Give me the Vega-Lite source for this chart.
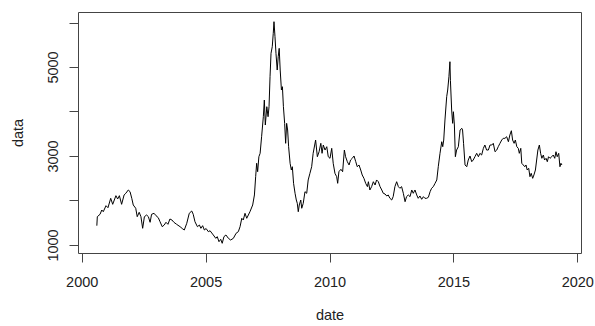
{
  "$schema": "https://vega.github.io/schema/vega-lite/v6.json",
  "width": 503,
  "height": 241,
  "autosize": {"type": "none"},
  "padding": {"left": 78, "top": 12, "right": 14, "bottom": 73},
  "background": "white",
  "config": {
    "view": {"stroke": "#444", "strokeWidth": 1},
    "font": "Liberation Sans",
    "axis": {"grid": false, "domain": false, "tickColor": "#444", "tickSize": 9, "labelColor": "#222", "titleColor": "#222", "labelFontSize": 14.5, "titleFontSize": 14.5, "titleFontWeight": "normal", "labelFont": "Liberation Sans", "titleFont": "Liberation Sans"}
  },
  "data": {"values": [
    {"date":2000.61,"data":1434},{"date":2000.63,"data":1636},{"date":2000.74,"data":1690},{"date":2000.81,"data":1786},{"date":2000.87,"data":1748},{"date":2000.98,"data":1883},{"date":2001.06,"data":1838},{"date":2001.17,"data":2049},{"date":2001.25,"data":1914},{"date":2001.38,"data":2108},{"date":2001.45,"data":2034},{"date":2001.52,"data":2108},{"date":2001.61,"data":1914},{"date":2001.71,"data":2124},{"date":2001.78,"data":2162},{"date":2001.88,"data":2236},{"date":2001.95,"data":2198},{"date":2002.02,"data":2049},{"date":2002.08,"data":1899},{"date":2002.18,"data":1825},{"date":2002.24,"data":1636},{"date":2002.32,"data":1735},{"date":2002.39,"data":1636},{"date":2002.46,"data":1375},{"date":2002.53,"data":1636},{"date":2002.62,"data":1674},{"date":2002.69,"data":1636},{"date":2002.76,"data":1510},{"date":2002.82,"data":1690},{"date":2002.92,"data":1712},{"date":2003.0,"data":1658},{"date":2003.09,"data":1613},{"date":2003.16,"data":1523},{"date":2003.25,"data":1411},{"date":2003.33,"data":1449},{"date":2003.4,"data":1510},{"date":2003.48,"data":1465},{"date":2003.56,"data":1584},{"date":2003.64,"data":1562},{"date":2003.72,"data":1510},{"date":2003.83,"data":1465},{"date":2003.97,"data":1411},{"date":2004.08,"data":1360},{"date":2004.14,"data":1337},{"date":2004.24,"data":1488},{"date":2004.34,"data":1712},{"date":2004.44,"data":1764},{"date":2004.5,"data":1690},{"date":2004.57,"data":1523},{"date":2004.67,"data":1411},{"date":2004.75,"data":1449},{"date":2004.81,"data":1375},{"date":2004.88,"data":1434},{"date":2004.95,"data":1337},
    {"date":2005.02,"data":1370},{"date":2005.11,"data":1299},{"date":2005.18,"data":1320},{"date":2005.31,"data":1225},{"date":2005.41,"data":1150},{"date":2005.47,"data":1187},{"date":2005.54,"data":1074},{"date":2005.61,"data":1128},{"date":2005.67,"data":1038},{"date":2005.74,"data":1187},{"date":2005.82,"data":1225},{"date":2005.92,"data":1150},{"date":2006.01,"data":1112},{"date":2006.12,"data":1150},{"date":2006.23,"data":1263},{"date":2006.32,"data":1299},{"date":2006.39,"data":1411},{"date":2006.46,"data":1600},{"date":2006.52,"data":1562},{"date":2006.59,"data":1712},{"date":2006.66,"data":1600},{"date":2006.79,"data":1748},{"date":2006.9,"data":1899},{"date":2006.97,"data":2124},{"date":2007.02,"data":2535},{"date":2007.06,"data":2836},{"date":2007.1,"data":2647},{"date":2007.15,"data":2984},{"date":2007.2,"data":3060},{"date":2007.26,"data":3433},{"date":2007.33,"data":3883},{"date":2007.37,"data":4258},{"date":2007.41,"data":3696},{"date":2007.47,"data":4108},{"date":2007.52,"data":3883},{"date":2007.56,"data":4108},{"date":2007.6,"data":4782},{"date":2007.64,"data":5307},{"date":2007.69,"data":5456},{"date":2007.73,"data":5757},{"date":2007.76,"data":6018},{"date":2007.8,"data":5681},{"date":2007.84,"data":5307},{"date":2007.89,"data":4932},{"date":2007.93,"data":5232},{"date":2007.97,"data":5419},{"date":2008.01,"data":4932},{"date":2008.06,"data":4483},{"date":2008.1,"data":4557},{"date":2008.14,"data":4108},{"date":2008.19,"data":3734},{"date":2008.23,"data":3285},{"date":2008.27,"data":3734},{"date":2008.31,"data":3584},{"date":2008.35,"data":3209},{"date":2008.41,"data":2836},{"date":2008.46,"data":2685},{"date":2008.5,"data":2759},{"date":2008.55,"data":2386},{"date":2008.61,"data":2162},{"date":2008.66,"data":2011},{"date":2008.7,"data":1937},{"date":2008.74,"data":1748},{"date":2008.78,"data":1899},{"date":2008.84,"data":2011},{"date":2008.88,"data":1825},{"date":2008.94,"data":1937},{"date":2009.01,"data":2198},{"date":2009.08,"data":2162},{"date":2009.14,"data":2461},{"date":2009.21,"data":2611},{"date":2009.28,"data":2759},{"date":2009.34,"data":3060},{"date":2009.44,"data":3359},{"date":2009.51,"data":2984},{"date":2009.58,"data":3096},{"date":2009.65,"data":3285},{"date":2009.7,"data":3060},{"date":2009.75,"data":3247},{"date":2009.82,"data":3134},{"date":2009.89,"data":3209},{"date":2009.95,"data":2984},
    {"date":2010.02,"data":2948},{"date":2010.09,"data":3172},{"date":2010.15,"data":2836},{"date":2010.22,"data":2611},{"date":2010.29,"data":2535},{"date":2010.33,"data":2386},{"date":2010.38,"data":2647},{"date":2010.46,"data":2701},{"date":2010.53,"data":2647},{"date":2010.6,"data":3134},{"date":2010.65,"data":2984},{"date":2010.72,"data":2872},{"date":2010.79,"data":2798},{"date":2010.85,"data":2910},{"date":2010.92,"data":2948},{"date":2010.99,"data":3000},{"date":2011.06,"data":2872},{"date":2011.12,"data":2759},{"date":2011.19,"data":2798},{"date":2011.26,"data":2685},{"date":2011.32,"data":2573},{"date":2011.39,"data":2498},{"date":2011.46,"data":2386},{"date":2011.53,"data":2311},{"date":2011.57,"data":2422},{"date":2011.63,"data":2236},{"date":2011.7,"data":2311},{"date":2011.77,"data":2422},{"date":2011.84,"data":2348},{"date":2011.9,"data":2461},{"date":2011.97,"data":2422},{"date":2012.04,"data":2311},{"date":2012.11,"data":2236},{"date":2012.17,"data":2162},{"date":2012.24,"data":2146},{"date":2012.31,"data":2101},{"date":2012.37,"data":2124},{"date":2012.44,"data":2049},{"date":2012.51,"data":2011},{"date":2012.57,"data":2086},{"date":2012.64,"data":2311},{"date":2012.71,"data":2422},{"date":2012.78,"data":2311},{"date":2012.84,"data":2274},{"date":2012.91,"data":2311},{"date":2012.98,"data":2162},{"date":2013.05,"data":1973},{"date":2013.11,"data":2086},{"date":2013.18,"data":2124},{"date":2013.25,"data":2086},{"date":2013.32,"data":2236},{"date":2013.38,"data":2162},{"date":2013.45,"data":2236},{"date":2013.52,"data":2124},{"date":2013.58,"data":2049},{"date":2013.65,"data":2101},{"date":2013.72,"data":2027},{"date":2013.79,"data":2086},{"date":2013.85,"data":2049},{"date":2013.92,"data":2049},{"date":2013.99,"data":2072},{"date":2014.06,"data":2198},{"date":2014.12,"data":2274},{"date":2014.19,"data":2311},{"date":2014.26,"data":2386},{"date":2014.33,"data":2461},{"date":2014.39,"data":2759},{"date":2014.46,"data":3060},{"date":2014.53,"data":3321},{"date":2014.57,"data":3209},{"date":2014.61,"data":3359},{"date":2014.66,"data":3809},{"date":2014.73,"data":4333},{"date":2014.77,"data":4483},{"date":2014.82,"data":4782},{"date":2014.86,"data":5119},{"date":2014.88,"data":4700},{"date":2014.93,"data":4033},{"date":2014.97,"data":3734},{"date":2015.0,"data":3995},{"date":2015.04,"data":3697},{"date":2015.08,"data":2984},{"date":2015.13,"data":3134},{"date":2015.2,"data":3209},{"date":2015.27,"data":3584},{"date":2015.34,"data":3622},{"date":2015.37,"data":3584},{"date":2015.41,"data":3285},{"date":2015.47,"data":2798},{"date":2015.54,"data":2759},{"date":2015.6,"data":2910},{"date":2015.67,"data":3000},{"date":2015.74,"data":2872},{"date":2015.8,"data":2910},{"date":2015.87,"data":2984},{"date":2015.94,"data":3060},{"date":2016.01,"data":2984},{"date":2016.07,"data":3060},{"date":2016.14,"data":3022},{"date":2016.21,"data":3172},{"date":2016.27,"data":3247},{"date":2016.34,"data":3134},{"date":2016.41,"data":3134},{"date":2016.48,"data":3247},{"date":2016.55,"data":3247},{"date":2016.61,"data":3285},{"date":2016.68,"data":3096},{"date":2016.75,"data":3134},{"date":2016.81,"data":3209},{"date":2016.88,"data":3285},{"date":2016.95,"data":3359},{"date":2017.01,"data":3397},{"date":2017.08,"data":3397},{"date":2017.15,"data":3433},{"date":2017.22,"data":3321},{"date":2017.28,"data":3472},{"date":2017.34,"data":3568},{"date":2017.39,"data":3359},{"date":2017.45,"data":3285},{"date":2017.5,"data":3359},{"date":2017.56,"data":3209},{"date":2017.62,"data":3172},{"date":2017.66,"data":3060},{"date":2017.72,"data":3172},{"date":2017.76,"data":2836},{"date":2017.82,"data":2798},{"date":2017.88,"data":2759},{"date":2017.93,"data":2798},{"date":2017.98,"data":2685},{"date":2018.04,"data":2723},{"date":2018.09,"data":2535},{"date":2018.14,"data":2611},{"date":2018.2,"data":2498},{"date":2018.25,"data":2573},{"date":2018.31,"data":2685},{"date":2018.36,"data":2910},{"date":2018.41,"data":3134},{"date":2018.47,"data":3247},{"date":2018.52,"data":3060},{"date":2018.57,"data":2948},{"date":2018.63,"data":3022},{"date":2018.68,"data":2910},{"date":2018.74,"data":2948},{"date":2018.79,"data":2872},{"date":2018.84,"data":2984},{"date":2018.9,"data":2948},{"date":2018.97,"data":2984},{"date":2019.03,"data":3022},{"date":2019.09,"data":2948},{"date":2019.14,"data":3096},{"date":2019.19,"data":2984},{"date":2019.25,"data":3060},{"date":2019.3,"data":2759},{"date":2019.34,"data":2836},{"date":2019.38,"data":2798}
  ]},
  "mark": {"type": "line", "color": "black", "strokeWidth": 1},
  "encoding": {
    "x": {
      "field": "date", "type": "quantitative",
      "scale": {"domain": [1999.85, 2020.15], "nice": false, "zero": false},
      "axis": {"values": [2000, 2005, 2010, 2015, 2020], "format": "d", "labelPadding": 13, "titlePadding": 20, "title": "date"}
    },
    "y": {
      "field": "data", "type": "quantitative",
      "scale": {"domain": [820, 6236], "nice": false, "zero": false},
      "axis": {"values": [1000, 2000, 3000, 4000, 5000, 6000], "format": "d", "labelExpr": "datum.value % 2000 == 1000 ? datum.label : ''", "labelAngle": 270, "labelAlign": "center", "labelBaseline": "bottom", "labelPadding": 9, "titlePadding": 20, "title": "data"}
    }
  }
}
